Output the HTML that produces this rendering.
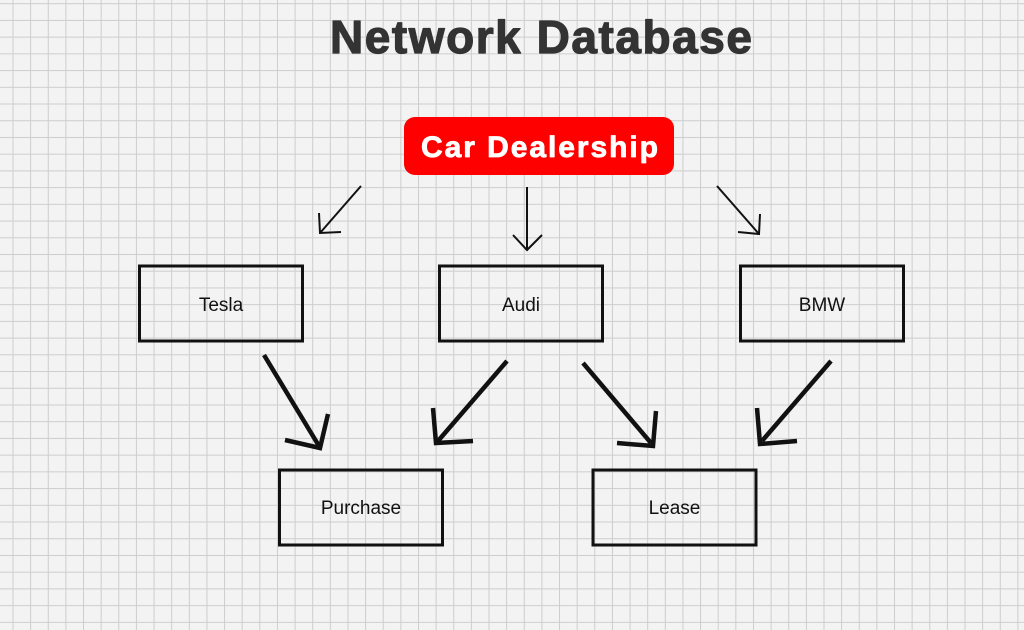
<!DOCTYPE html>
<html>
<head>
<meta charset="utf-8">
<style>
  html,body{margin:0;padding:0;}
  body{width:1024px;height:630px;overflow:hidden;background:#f3f3f3;}
  svg{display:block;}
</style>
</head>
<body>
<svg width="1024" height="630" viewBox="0 0 1024 630" xmlns="http://www.w3.org/2000/svg">
  <defs>
    <pattern id="gv" x="12.5" y="0" width="17.63" height="630" patternUnits="userSpaceOnUse">
      <rect x="0" y="0" width="1" height="630" fill="#cdcdcd"/>
    </pattern>
    <pattern id="gh" x="0" y="3.2" width="1024" height="16.72" patternUnits="userSpaceOnUse">
      <rect x="0" y="0" width="1024" height="1" fill="#cdcdcd"/>
    </pattern>
  </defs>
  <rect width="1024" height="630" fill="#f3f3f3"/>
  <rect width="1024" height="630" fill="url(#gv)"/>
  <rect width="1024" height="630" fill="url(#gh)"/>

  <!-- Title -->
  <text x="330" y="53" textLength="422" lengthAdjust="spacing" font-family="Liberation Sans, sans-serif" font-weight="bold" font-size="46" fill="#333333" stroke="#333333" stroke-width="1.2" stroke-linejoin="round">Network Database</text>

  <!-- Car Dealership -->
  <rect x="404" y="117" width="270" height="58" rx="11" ry="11" fill="#ff0000"/>
  <text x="421" y="157" textLength="237" lengthAdjust="spacing" font-family="Liberation Sans, sans-serif" font-weight="bold" font-size="30" fill="#ffffff" stroke="#ffffff" stroke-width="0.8" stroke-linejoin="round">Car Dealership</text>

  <!-- Thin arrows -->
  <g stroke="#111" stroke-width="2" fill="none" stroke-linecap="butt" stroke-linejoin="miter">
    <line x1="361" y1="186" x2="320" y2="233"/>
    <polyline points="319,213 320,233 341,232"/>
    <line x1="527" y1="187" x2="527" y2="250"/>
    <polyline points="513,235 527,250 542,235"/>
    <line x1="717" y1="186" x2="759" y2="234"/>
    <polyline points="738,232 759,234 760,214"/>
  </g>

  <!-- Boxes -->
  <g stroke="#111" stroke-width="3" fill="none">
    <rect x="139.5" y="266" width="163" height="75"/>
    <rect x="439.5" y="266" width="163" height="75"/>
    <rect x="740.5" y="266" width="163" height="75"/>
    <rect x="279.5" y="470" width="163" height="75"/>
    <rect x="593" y="470" width="163" height="75"/>
  </g>

  <!-- Labels -->
  <g font-family="Liberation Sans, sans-serif" font-size="19" fill="#111" text-anchor="middle">
    <text x="221" y="311">Tesla</text>
    <text x="521" y="311">Audi</text>
    <text x="822" y="311">BMW</text>
    <text x="361" y="514">Purchase</text>
    <text x="674.5" y="514">Lease</text>
  </g>

  <!-- Thick arrows -->
  <g stroke="#111" stroke-width="4.5" fill="none" stroke-linecap="butt" stroke-linejoin="miter">
    <line x1="264" y1="355" x2="319" y2="446"/>
    <polyline points="285,440 320,448 328,414"/>
    <line x1="507" y1="361" x2="438" y2="441"/>
    <polyline points="433,408 436,443 473,441"/>
    <line x1="583" y1="363" x2="651" y2="443"/>
    <polyline points="617,443 653,446 656,411"/>
    <line x1="831" y1="361" x2="762" y2="441"/>
    <polyline points="757,408 760,444 797,441"/>
  </g>
</svg>
</body>
</html>
